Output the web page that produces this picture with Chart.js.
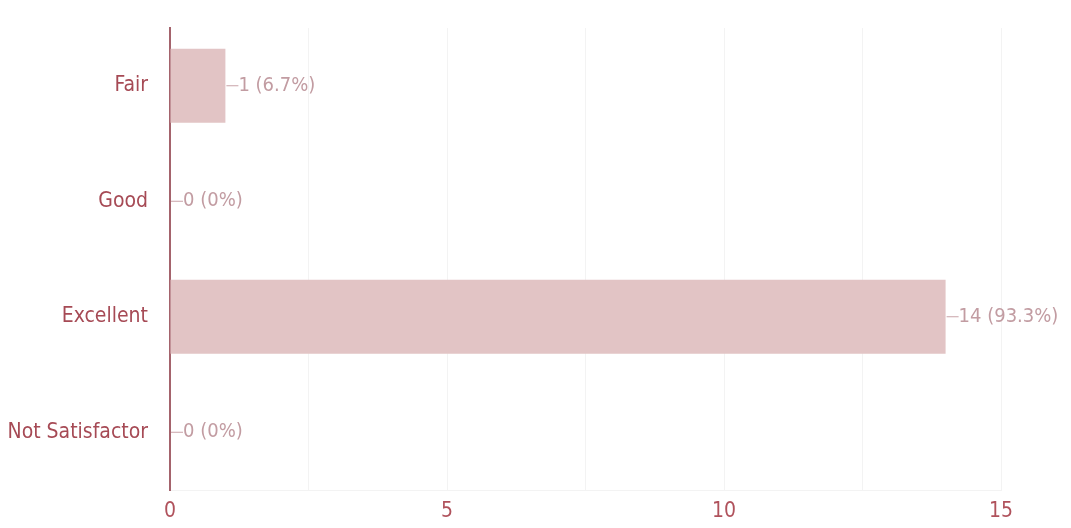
<!DOCTYPE html>
<html>
<head>
<meta charset="utf-8">
<script src="https://cdn.jsdelivr.net/npm/chart.js@4"></script>
<style>
  html, body { margin: 0; padding: 0; background: #fff; }
  #wrap { width: 1071px; height: 528px; }
</style>
</head>
<body>
<div id="wrap"><canvas id="chart" width="1071" height="528"></canvas></div>
<script>
const categories = ["Fair", "Good", "Excellent", "Not Satisfactor"];
const counts = [1, 0, 14, 0];
const percents = ["6.7%", "0%", "93.3%", "0%"];
const xTicks = [0, 5, 10, 15];

const FONT = "'Liberation Sans Narrow', 'DejaVu Sans Condensed', 'Arial Narrow', sans-serif";

// value labels with a short leader dash, placed through the chart's own scales
const valueLabels = {
    id: "valueLabels",
    afterDatasetsDraw(chart) {
        const ctx = chart.ctx;
        const meta = chart.getDatasetMeta(0);
        ctx.save();
        ctx.font = "20px " + FONT;
        ctx.textBaseline = "middle";
        meta.data.forEach((bar, i) => {
            const x = bar.x + 1;
            const y = bar.y;
            ctx.strokeStyle = "#c9a3a8";
            ctx.lineWidth = 1;
            ctx.beginPath();
            ctx.moveTo(x, y);
            ctx.lineTo(x + 12, y);
            ctx.stroke();
            ctx.fillStyle = "#c29ca2";
            ctx.fillText(counts[i] + " (" + percents[i] + ")", x + 12, y);
        });
        ctx.restore();
    }
};

new Chart(document.getElementById("chart"), {
    type: "bar",
    data: {
        labels: categories,
        datasets: [{
            data: counts,
            backgroundColor: "#e2c4c5",
            borderWidth: 0,
            barPercentage: 0.8,
            categoryPercentage: 0.8
        }]
    },
    options: {
        indexAxis: "y",
        responsive: false,
        animation: false,
        layout: { padding: { top: 28, right: 70, bottom: 0, left: 0 } },
        plugins: { legend: { display: false }, tooltip: { enabled: false } },
        scales: {
            x: {
                min: 0,
                max: 15,
                ticks: {
                    stepSize: 2.5,
                    autoSkip: false,
                    maxRotation: 0,
                    padding: 9,
                    color: "#b0525c",
                    font: { family: FONT, size: 21 },
                    callback: (v) => xTicks.includes(v) ? String(v) : ""
                },
                grid: { color: "#f3f3f3", drawTicks: false },
                border: { display: true, color: "#f3f3f3" },
                afterFit: (s) => { s.height = 38; }
            },
            y: {
                ticks: {
                    padding: 14,
                    color: "#a64a55",
                    font: { family: FONT, size: 21 }
                },
                grid: { display: false },
                border: { display: true, color: "#a4636c", width: 2 },
                afterFit: (s) => { s.width = 170; }
            }
        }
    },
    plugins: [valueLabels]
});
</script>
</body>
</html>
